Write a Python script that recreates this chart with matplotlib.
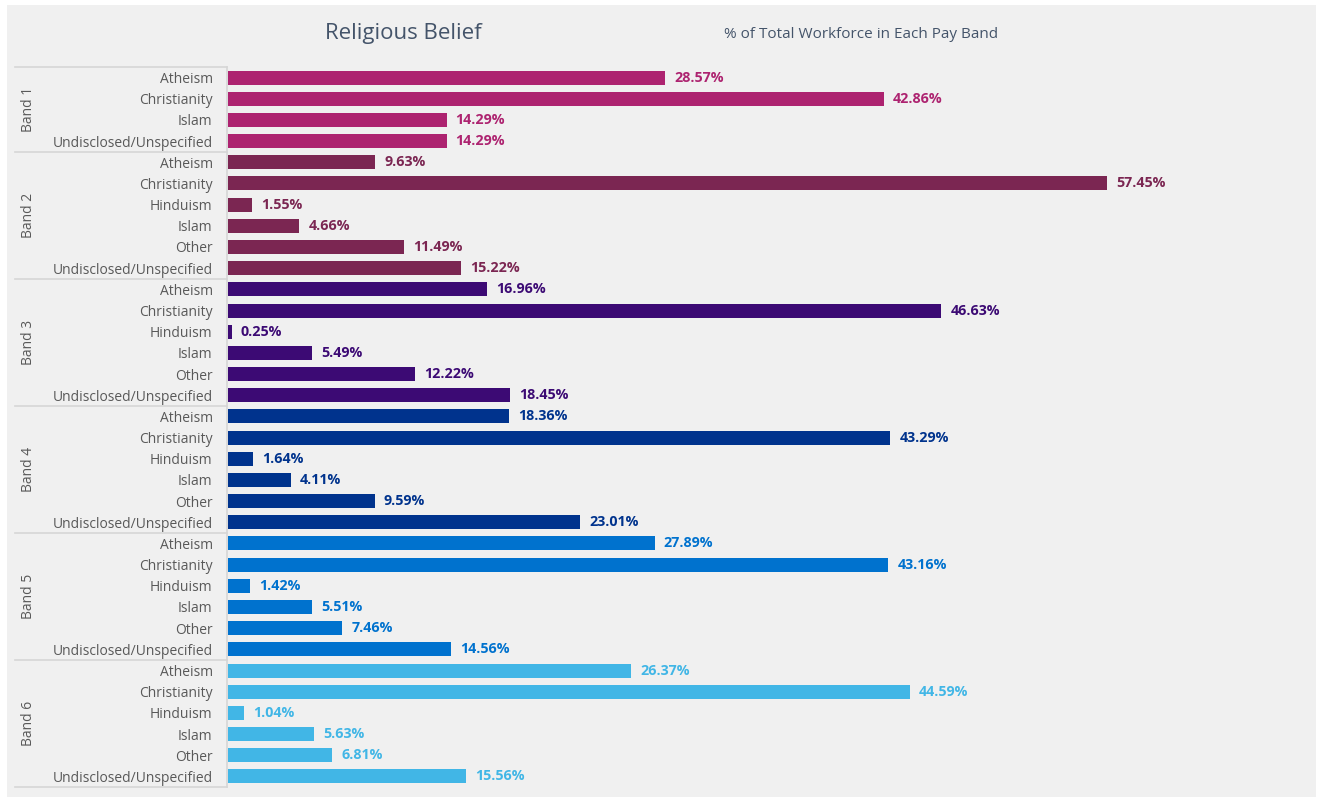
import matplotlib
matplotlib.use("Agg")
import matplotlib.pyplot as plt
from matplotlib.patches import Rectangle
from matplotlib.lines import Line2D

plt.rcParams['font.family'] = ['Open Sans', 'DejaVu Sans']

bands = ["Band 1", "Band 2", "Band 3", "Band 4", "Band 5", "Band 6"]
band1_cats = ["Atheism", "Christianity", "Islam", "Undisclosed/Unspecified"]
full_cats = ["Atheism", "Christianity", "Hinduism", "Islam", "Other", "Undisclosed/Unspecified"]
band_categories = [band1_cats] + [full_cats] * 5

band1_vals = [28.57, 42.86, 14.29, 14.29]
band2_vals = [9.63, 57.45, 1.55, 4.66, 11.49, 15.22]
band3_vals = [16.96, 46.63, 0.25, 5.49, 12.22, 18.45]
band4_vals = [18.36, 43.29, 1.64, 4.11, 9.59, 23.01]
band5_vals = [27.89, 43.16, 1.42, 5.51, 7.46, 14.56]
band6_vals = [26.37, 44.59, 1.04, 5.63, 6.81, 15.56]
band_values = [band1_vals, band2_vals, band3_vals, band4_vals, band5_vals, band6_vals]

band_colors = ["#AD2370", "#7B2652", "#3C0A74", "#00338D", "#0072CE", "#41B6E6"]

W, H = 1322, 798
fig = plt.figure(figsize=(W / 100, H / 100), dpi=100)
fig.patch.set_facecolor("white")

# grey panel behind the chart
fig.add_artist(Rectangle((7 / W, 1 - 797 / H), (1316 - 7) / W, (797 - 5) / H,
                         transform=fig.transFigure, facecolor="#F0F0F0",
                         edgecolor="none", zorder=0))

top_px, bot_px = 67, 787
left_px, right_px = 228, 1316
ax = fig.add_axes([left_px / W, 1 - bot_px / H, (right_px - left_px) / W, (bot_px - top_px) / H])
ax.set_facecolor("none")

px_per_pct = 15.30
ax.set_xlim(0, (right_px - left_px) / px_per_pct)

labels, values, colors, groups = [], [], [], []
for b, (cats, vals, col) in enumerate(zip(band_categories, band_values, band_colors)):
    labels += cats
    values += vals
    colors += [col] * len(vals)
    groups.append(len(vals))

n = len(values)
ypos = list(range(n))
ax.barh(ypos, values, height=0.66, color=colors, edgecolor="none")
ax.set_ylim(n - 0.5, -0.5)

for y, v, c in zip(ypos, values, colors):
    ax.annotate(f"{v:.2f}%", (v, y), xytext=(9, 0), textcoords="offset pixels",
                va="center", ha="left", fontsize=10.3, fontweight="bold", color=c)

ax.set_yticks(ypos)
ax.set_yticklabels(labels, fontsize=10, color="#595959")
ax.tick_params(axis="y", length=0, pad=11)
ax.set_xticks([])
for s in ax.spines.values():
    s.set_visible(False)

# group dividers and band names in the label column
line_col = "#D6D6D6"
row_h = (bot_px - top_px) / n
start = 0
boundaries = [0]
for g in groups:
    start += g
    boundaries.append(start)
for bnd in boundaries:
    yp = top_px + bnd * row_h
    fig.add_artist(Line2D([15 / W, 227 / W], [1 - yp / H, 1 - yp / H],
                          transform=fig.transFigure, color=line_col, lw=1.2))
fig.add_artist(Line2D([227 / W, 227 / W], [1 - top_px / H, 1 - bot_px / H],
                      transform=fig.transFigure, color=line_col, lw=1.2))
for i, name in enumerate(bands):
    mid = top_px + (boundaries[i] + boundaries[i + 1]) / 2 * row_h
    fig.text(28 / W, 1 - mid / H, name, rotation=90, ha="center", va="center",
             fontsize=10, color="#595959")

fig.text(403 / W, 1 - 33 / H, "Religious Belief", ha="center", va="center",
         fontsize=16, color="#44546A")
fig.text(861 / W, 1 - 35 / H, "% of Total Workforce in Each Pay Band", ha="center",
         va="center", fontsize=11, color="#44546A")

fig.savefig("out.png", dpi=100, facecolor=fig.get_facecolor())
